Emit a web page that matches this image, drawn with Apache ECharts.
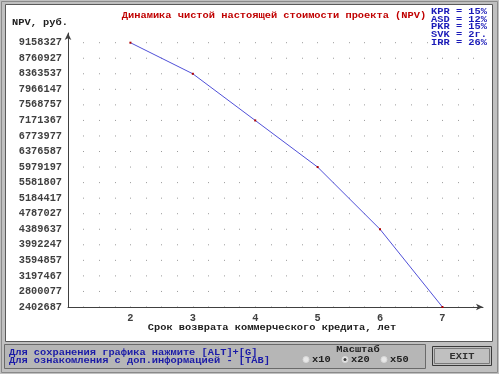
<!DOCTYPE html>
<html><head><meta charset="utf-8">
<script src="https://cdn.jsdelivr.net/npm/echarts@6/dist/echarts.min.js"></script>
<style>html,body{margin:0;padding:0;background:#c0c0c0}#c{width:499px;height:374px}</style>
</head><body><div id="c"></div>
<script>
// ---- data ----
const years = [2, 3, 4, 5, 6, 7];
const npv = [9158327, 8363537, 7171367, 5979197, 4389637, 2402687];
const yTickLabels = ['2402687', '2800077', '3197467', '3594857', '3992247', '4389637', '4787027', '5184417', '5581807',
  '5979197', '6376587', '6773977', '7171367', '7568757', '7966147', '8363537', '8760927', '9158327'];
const xTickLabels = [2, 3, 4, 5, 6, 7];
const legendLines = ['KPR = 15%', 'ASD = 12%', 'PKR = 15%', 'SVK = 2г.', 'IRR = 26%'];
const titleText = 'Динамика чистой настоящей стоимости проекта (NPV)';
const yName = 'NPV, руб.';
const xName = 'Срок возврата коммерческого кредита, лет';
const statusLines = ['Для сохранения графика нажмите [ALT]+[G]', 'Для ознакомления с доп.информацией - [TAB]'];
const scaleTitle = 'Масштаб';
const scaleOptions = ['x10', 'x20', 'x50'];
const scaleSelected = 1;

// ---- layout ----
const W = 499, H = 374;
const G = {left: 68, right: 16, top: 33, bottom: 67};
const yMin = Number(yTickLabels[0]);
const yTop = Number(yTickLabels[yTickLabels.length - 1]);
const yTickStep = (yTop - yMin) / (yTickLabels.length - 1);
const yMax = 9406000;
const xMin = 1, xMax = 7.65;
const gridH = H - G.top - G.bottom;
const stepPx = gridH * yTickStep / (yMax - yMin);
const topRowPx = (yMax - yTop) / (yMax - yMin) * gridH;
const FONT = 'Liberation Mono';
const FS = 10.3;
const GFS = 9;      // graphic text size
const GSX = 1.15;   // horizontal stretch for the pixel-font look

const chart = echarts.init(document.getElementById('c'), null, {renderer: 'canvas'});

function txt(x, y, s, color, align) {
  return {
    type: 'text', x: x, y: y, z: 5, scaleX: GSX,
    style: {text: s, fill: color, font: 'bold ' + GFS + 'px "' + FONT + '"', align: align || 'left', verticalAlign: 'middle'}
  };
}

const graphics = [
  {type: 'rect', z: -20, shape: {x: 1.5, y: 1.5, width: W - 3, height: H - 3}, style: {fill: '#c0c0c0', stroke: '#8a8a8a', lineWidth: 1}},
  {type: 'rect', z: -19, shape: {x: 5.5, y: 4.5, width: 487, height: 337}, style: {fill: '#ffffff', stroke: '#5a5a5a', lineWidth: 1}},
  {type: 'rect', z: -19, shape: {x: 4.5, y: 344.5, width: 421, height: 24}, style: {fill: '#b6b6b6', stroke: '#6a6a6a', lineWidth: 1}},
  {type: 'rect', z: -19, shape: {x: 432.5, y: 346.5, width: 59, height: 19}, style: {fill: '#c0c0c0', stroke: '#3a3a3a', lineWidth: 1}},
  {type: 'rect', z: -18, shape: {x: 434.5, y: 348.5, width: 55, height: 15}, style: {fill: 'none', stroke: '#7a7a7a', lineWidth: 1}},
  txt(462, 356.5, 'EXIT', '#303030', 'center'),
  txt(274, 16, titleText, '#c00000', 'center'),
  txt(12, 22.5, yName, '#202020', 'left'),
  txt(272, 327.5, xName, '#202020', 'center'),
  txt(9, 352.5, statusLines[0], '#1a1aa8', 'left'),
  txt(9, 360.5, statusLines[1], '#1a1aa8', 'left'),
  txt(358, 350, scaleTitle, '#202020', 'center')
];
legendLines.forEach(function (s, i) {
  graphics.push(txt(487, 11.5 + i * 7.8, s, '#1a1ab8', 'right'));
});
const radioX = [306, 345, 384];
scaleOptions.forEach(function (s, i) {
  graphics.push({type: 'circle', z: 5, shape: {cx: radioX[i], cy: 359.5, r: 3}, style: {fill: '#e8e8e8', stroke: '#d8d8d8', lineWidth: 1}});
  if (i === scaleSelected) graphics.push({type: 'circle', z: 6, shape: {cx: radioX[i], cy: 359.5, r: 1.5}, style: {fill: '#404040'}});
  graphics.push(txt(radioX[i] + 6, 360, s, '#202020', 'left'));
});

chart.setOption({
  animation: false,
  backgroundColor: '#c0c0c0',
  graphic: graphics,
  grid: {left: G.left, right: G.right, top: G.top, bottom: G.bottom, containLabel: false},
  xAxis: {
    type: 'value', min: xMin, max: xMax, interval: 0.25,
    axisLine: {show: true, symbol: ['none', 'arrow'], symbolSize: [5, 7], lineStyle: {color: '#404040', width: 1}},
    axisTick: {show: false},
    axisLabel: {
      margin: 6, color: '#404040', fontFamily: FONT, fontWeight: 'bold', fontSize: FS,
      showMinLabel: false, showMaxLabel: false,
      formatter: function (v) {
        const r = Math.round(v);
        return (Math.abs(v - r) < 1e-9 && xTickLabels.indexOf(r) >= 0) ? String(r) : '';
      }
    },
    splitLine: {
      show: true, showMinLine: false, showMaxLine: false,
      lineStyle: {color: '#9a9a9a', width: 1, type: [1, stepPx - 1], dashOffset: stepPx - (topRowPx - 0.5)}
    }
  },
  yAxis: {
    type: 'value', min: yMin, max: yMax, interval: yTickStep,
    axisLine: {show: true, symbol: ['none', 'arrow'], symbolSize: [5, 7], lineStyle: {color: '#404040', width: 1}},
    axisTick: {show: false},
    axisLabel: {
      margin: 6, color: '#404040', fontFamily: FONT, fontWeight: 'bold', fontSize: FS,
      showMaxLabel: false, padding: [4, 0, 0, 0],
      formatter: function (v) {
        const k = Math.round((v - yMin) / yTickStep);
        return (v < yMax - 1 && k >= 0 && k < yTickLabels.length) ? yTickLabels[k] : '';
      }
    },
    splitLine: {show: false}
  },
  series: [{
    type: 'line',
    data: years.map(function (x, i) { return [x, npv[i]]; }),
    symbol: 'rect', symbolSize: 2, showSymbol: true,
    itemStyle: {color: '#b00000'},
    lineStyle: {color: '#5050d8', width: 1},
    z: 3
  }]
});
</script></body></html>
